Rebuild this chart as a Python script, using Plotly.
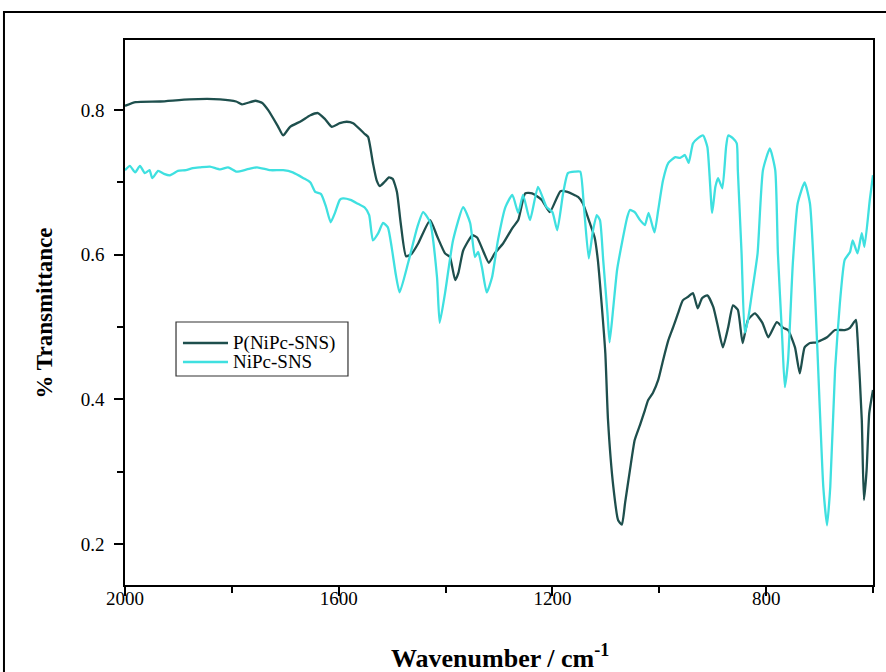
import plotly.graph_objects as go

# FTIR spectra, 2000-600 cm-1
poly_wn = [2000, 1980, 1934, 1879, 1822, 1792, 1781, 1756, 1743, 1732, 1714, 1704, 1691, 1670,
           1653, 1639, 1626, 1613, 1598, 1585, 1573, 1551, 1545, 1536, 1529, 1523, 1514, 1506,
           1499, 1491, 1484, 1474, 1464, 1451, 1429, 1416, 1401, 1392, 1382, 1376, 1367, 1350,
           1341, 1330, 1319, 1308, 1292, 1275, 1264, 1251, 1238, 1220, 1205, 1185, 1172, 1152,
           1143, 1130, 1121, 1115, 1108, 1101, 1096, 1086, 1077, 1070, 1064, 1055, 1046, 1036,
           1027, 1021, 1012, 1002, 993, 983, 974, 965, 956, 946, 937, 928, 920, 910, 899, 890,
           881, 871, 862, 853, 844, 834, 821, 807, 796, 780, 768, 759, 746, 737, 728, 718, 706,
           686, 671, 653, 643, 632, 629, 621, 617, 612, 607, 600]
poly_t = [0.806, 0.811, 0.812, 0.815, 0.815, 0.812, 0.808, 0.813, 0.810, 0.800, 0.778, 0.765,
          0.777, 0.785, 0.793, 0.796, 0.788, 0.777, 0.782, 0.784, 0.782, 0.767, 0.763, 0.727,
          0.703, 0.695, 0.701, 0.707, 0.705, 0.687, 0.644, 0.598, 0.601, 0.616, 0.648, 0.626,
          0.602, 0.597, 0.565, 0.575, 0.606, 0.627, 0.624, 0.606, 0.589, 0.602, 0.616, 0.637,
          0.648, 0.685, 0.685, 0.676, 0.659, 0.688, 0.687, 0.680, 0.671, 0.644, 0.624, 0.593,
          0.533, 0.464, 0.372, 0.279, 0.233, 0.227, 0.257, 0.302, 0.344, 0.365, 0.385, 0.399,
          0.409, 0.427, 0.454, 0.482, 0.500, 0.519, 0.537, 0.542, 0.547, 0.526, 0.540, 0.544,
          0.528, 0.500, 0.472, 0.500, 0.530, 0.524, 0.478, 0.510, 0.519, 0.506, 0.486, 0.507,
          0.499, 0.496, 0.472, 0.436, 0.472, 0.478, 0.479, 0.486, 0.496, 0.496, 0.499, 0.510,
          0.486, 0.372, 0.261, 0.302, 0.381, 0.413]

mono_wn = [2000, 1991, 1981, 1972, 1963, 1954, 1949, 1938, 1927, 1916, 1901, 1886, 1873, 1859,
           1841, 1822, 1807, 1791, 1772, 1753, 1728, 1704, 1686, 1666, 1653, 1644, 1633, 1624,
           1615, 1607, 1598, 1592, 1578, 1565, 1551, 1543, 1536, 1526, 1517, 1508, 1501, 1493,
           1486, 1470, 1453, 1442, 1429, 1416, 1411, 1401, 1386, 1367, 1354, 1345, 1339, 1332,
           1323, 1313, 1302, 1288, 1275, 1264, 1255, 1242, 1227, 1211, 1200, 1191, 1180, 1171,
           1158, 1148, 1141, 1132, 1124, 1117, 1111, 1105, 1097, 1093, 1086, 1079, 1070, 1060,
           1055, 1046, 1036, 1027, 1020, 1009, 1002, 993, 983, 970, 961, 952, 945, 937, 928,
           918, 910, 901, 895, 890, 882, 875, 871, 862, 855, 853, 846, 840, 834, 825, 816, 806,
           793, 783, 778, 770, 765, 759, 750, 741, 728, 718, 709, 700, 693, 686, 680, 671, 662,
           653, 643, 638, 629, 621, 616, 606, 600]
mono_t = [0.717, 0.723, 0.714, 0.723, 0.713, 0.717, 0.706, 0.716, 0.712, 0.710, 0.716, 0.717,
          0.720, 0.721, 0.722, 0.718, 0.721, 0.715, 0.718, 0.721, 0.717, 0.717, 0.714, 0.706,
          0.700, 0.687, 0.684, 0.667, 0.645, 0.658, 0.676, 0.678, 0.676, 0.671, 0.665, 0.655,
          0.620, 0.630, 0.644, 0.638, 0.611, 0.572, 0.548, 0.589, 0.638, 0.659, 0.645, 0.569,
          0.506, 0.547, 0.620, 0.666, 0.644, 0.597, 0.604, 0.583, 0.548, 0.569, 0.620, 0.666,
          0.683, 0.658, 0.683, 0.648, 0.694, 0.666, 0.659, 0.634, 0.685, 0.713, 0.715, 0.715,
          0.666, 0.595, 0.634, 0.655, 0.648, 0.593, 0.519, 0.479, 0.528, 0.579, 0.616, 0.652,
          0.662, 0.659, 0.648, 0.641, 0.658, 0.631, 0.662, 0.703, 0.727, 0.735, 0.734, 0.738,
          0.727, 0.754, 0.761, 0.765, 0.749, 0.658, 0.694, 0.706, 0.692, 0.749, 0.765, 0.761,
          0.754, 0.717, 0.602, 0.492, 0.510, 0.555, 0.602, 0.717, 0.747, 0.717, 0.602, 0.486,
          0.417, 0.454, 0.589, 0.671, 0.700, 0.671, 0.555, 0.395, 0.279, 0.226, 0.279, 0.441,
          0.533, 0.593, 0.604, 0.620, 0.602, 0.630, 0.611, 0.676, 0.710]

series_names = ["P(NiPc-SNS)", "NiPc-SNS"]
x_ticks = [2000, 1600, 1200, 800]
y_ticks = [0.2, 0.4, 0.6, 0.8]

SERIF = "Liberation Serif"
DARK = "#1e4f4d"
CYAN = "#3fe0e0"
colors = [DARK, CYAN]

fig = go.Figure()
for name, xs, ys, c in zip(series_names, [poly_wn, mono_wn], [poly_t, mono_t], colors):
    fig.add_trace(go.Scatter(x=xs, y=ys, mode="lines", name=name, showlegend=False,
                             line=dict(color=c, width=2.3, shape="spline", smoothing=0.5)))

axis_common = dict(showline=True, linecolor="black", linewidth=1.5, mirror=True,
                   showgrid=False, zeroline=False, ticks="outside", tickcolor="black",
                   tickwidth=1.5, ticklen=9,
                   tickfont=dict(family=SERIF, size=19, color="black"))

fig.update_xaxes(range=[2000, 600], tickvals=x_ticks, ticktext=[str(v) for v in x_ticks],
                 minor=dict(dtick=200, tick0=2000, ticks="outside", ticklen=6,
                            tickcolor="black", tickwidth=1.5),
                 ticklabelstandoff=-14, **axis_common)
fig.update_yaxes(range=[0.1435, 0.897], tickvals=y_ticks, ticktext=[f"{v:.1f}" for v in y_ticks],
                 minor=dict(dtick=0.1, tick0=0.2, ticks="outside", ticklen=6,
                            tickcolor="black", tickwidth=1.5),
                 ticklabelstandoff=6, **axis_common)

# frame around the whole figure
fig.add_shape(type="rect", xref="paper", yref="paper",
              x0=-0.1618, x1=1.03, y0=-0.19, y1=1.0514,
              line=dict(color="black", width=2), fillcolor="rgba(0,0,0,0)", layer="above")

# compact boxed legend
fig.add_shape(type="rect", xref="paper", yref="paper",
              x0=0.0682, x1=0.2981, y0=0.3835, y1=0.4826,
              line=dict(color="#333333", width=1.2), fillcolor="white", layer="above")
legend_rows = [0.4440, 0.4092]
for name, c, yy in zip(series_names, colors, legend_rows):
    fig.add_shape(type="line", xref="paper", yref="paper",
                  x0=0.0775, x1=0.1377, y0=yy, y1=yy,
                  line=dict(color=c, width=2.3), layer="above")
    fig.add_annotation(text=name, xref="paper", yref="paper", x=0.1417, y=yy,
                       xanchor="left", yanchor="middle", showarrow=False,
                       font=dict(family=SERIF, size=19, color="black"))

fig.add_annotation(text="<b>Wavenumber / cm<sup>-1</sup></b>", xref="paper", yref="paper",
                   x=0.501, y=-0.132, xanchor="center", yanchor="middle", showarrow=False,
                   font=dict(family=SERIF, size=26, color="black"))
fig.add_annotation(text="<b>% Transmittance</b>", xref="paper", yref="paper",
                   x=-0.107, y=0.50, xanchor="center", yanchor="middle", showarrow=False,
                   textangle=-90, font=dict(family=SERIF, size=23, color="black"))

fig.update_layout(
    width=886, height=672,
    margin=dict(l=125, r=13, t=40, b=87),
    paper_bgcolor="white", plot_bgcolor="white",
    showlegend=False,
)

fig.write_html("out.html")
